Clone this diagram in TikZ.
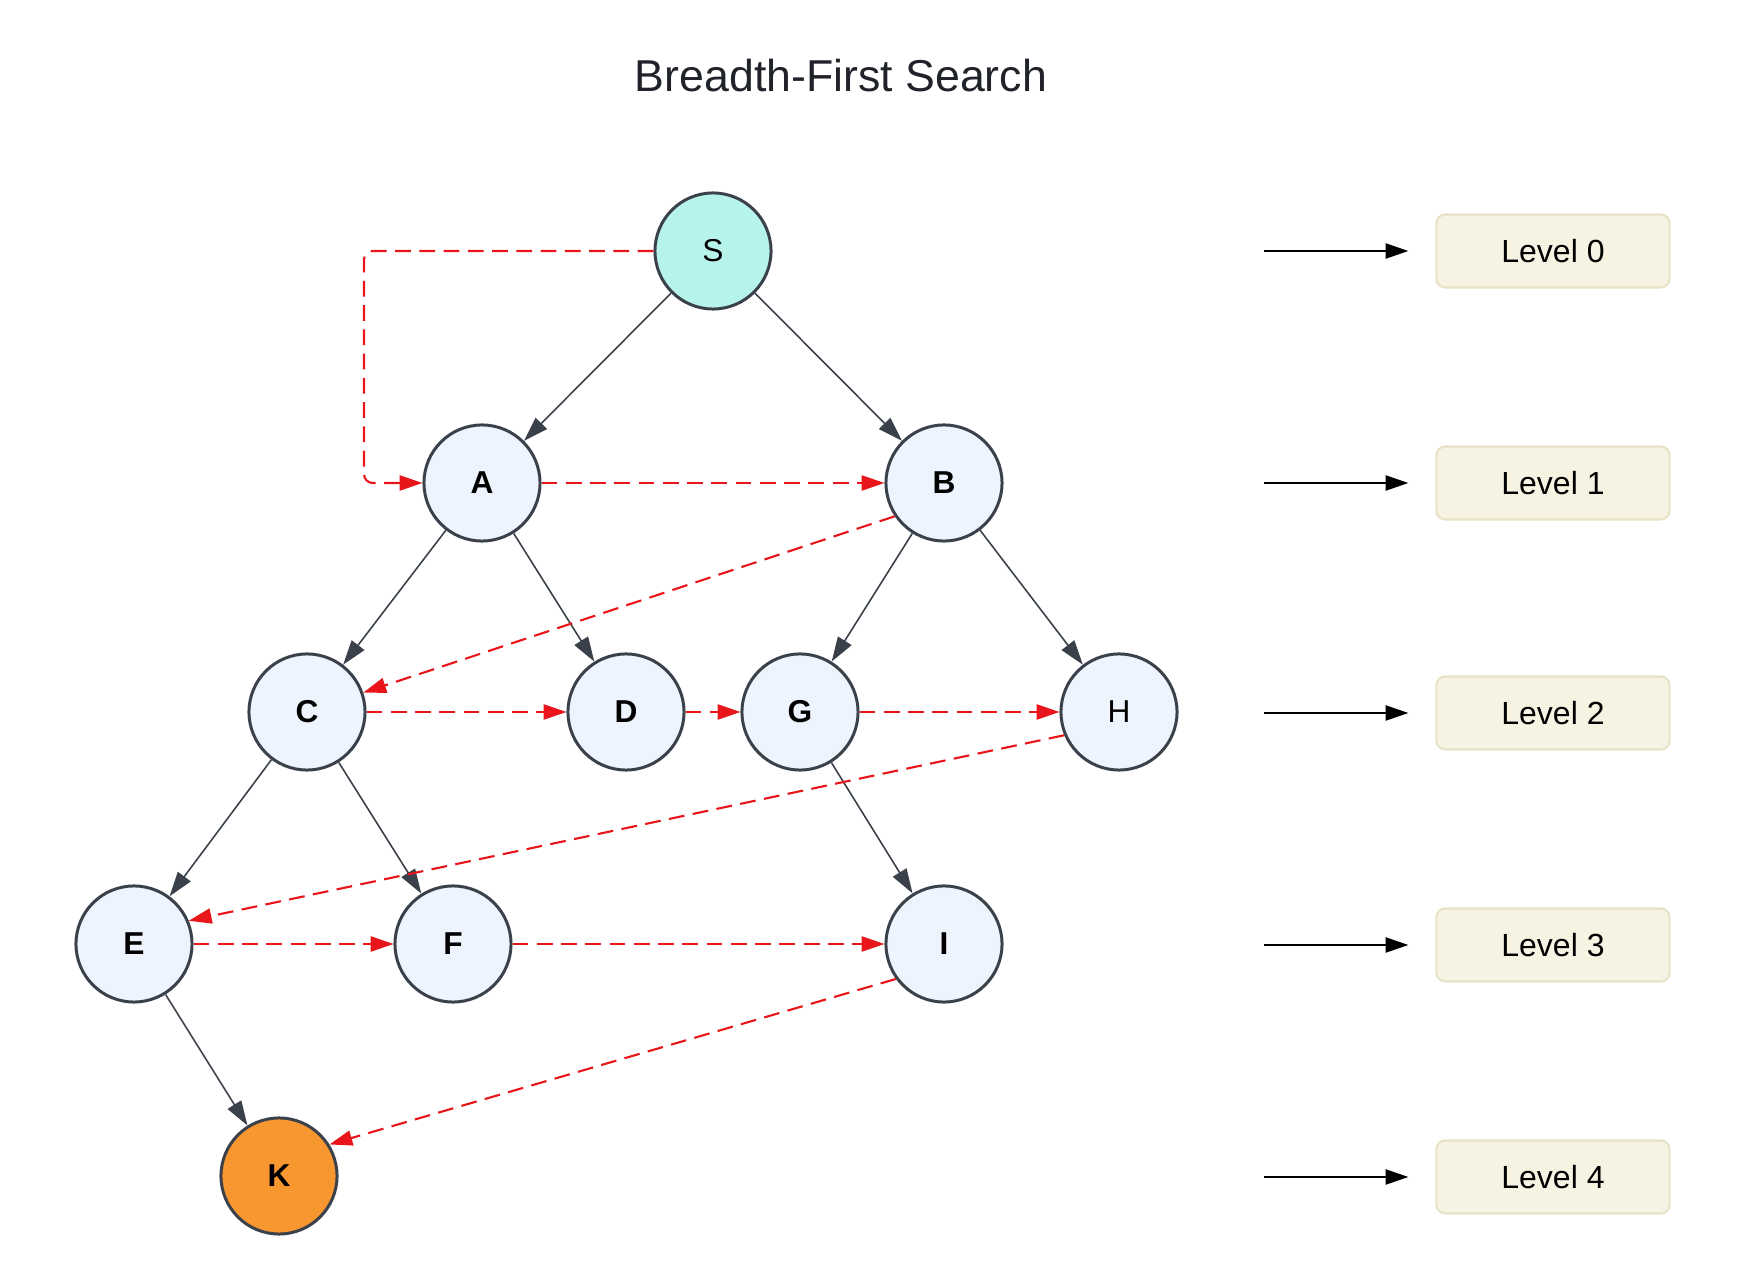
\documentclass[tikz,border=0pt]{standalone}
\usepackage{fontspec}
\setmainfont{Liberation Sans}
\usetikzlibrary{arrows.meta}
\definecolor{ringgray}{HTML}{3A414A}
\definecolor{vertexblue}{HTML}{EDF4FE}
\definecolor{startmint}{HTML}{B6F3EA}
\definecolor{goalorange}{HTML}{F8962F}
\definecolor{visitred}{HTML}{E8161A}
\definecolor{levelfill}{HTML}{F6F3E3}
\definecolor{levelline}{HTML}{E8E2C6}
\definecolor{titlegray}{HTML}{202329}
\newcommand{\vfont}{\fontsize{9}{11}\selectfont}
\tikzset{
  vertex/.style={circle,draw=ringgray,line width=0.85pt,fill=vertexblue,
    minimum size=1.16cm,inner sep=0pt,font=\vfont\bfseries},
  vertexplain/.style={vertex,font=\vfont},
  treeedge/.style={draw=ringgray,line width=0.45pt,
    -{Triangle[length=7pt,width=4.5pt]}},
  visit/.style={draw=visitred,line width=0.6pt,dash pattern=on 4.5pt off 2.4pt,
    -{Triangle[length=6.5pt,width=4.3pt]}},
  levelbox/.style={draw=levelline,line width=0.6pt,fill=levelfill,rounded corners=2.5pt,
    minimum width=2.33cm,minimum height=0.73cm,font=\fontsize{9.1}{11}\selectfont},
  levelarrow/.style={draw=black,line width=0.6pt,shorten >=0.27cm,
    -{Triangle[length=6.5pt,width=4.3pt]}}
}

\begin{document}
\begin{tikzpicture}[x=0.01cm,y=-0.01cm]
	\useasboundingbox (0,0) rectangle (1744,1264);
	
	\node[text=titlegray,font=\fontsize{12.7}{15}\selectfont] (title) at (841,76) {Breadth-First Search};
	
	% vertices
	\node[vertexplain,fill=startmint] (S) at (713,251) {S};
	\node[vertex] (A) at (482,483) {A};
	\node[vertex] (B) at (944,483) {B};
	\node[vertex] (C) at (307,712) {C};
	\node[vertex] (D) at (626,712) {D};
	\node[vertex] (G) at (800,712) {G};
	\node[vertexplain] (H) at (1119,712) {H};
	\node[vertex] (E) at (134,944) {E};
	\node[vertex] (F) at (453,944) {F};
	\node[vertex] (I) at (944,944) {I};
	\node[vertex,fill=goalorange] (K) at (279,1176) {K};
	
	% tree edges
	\foreach \p/\c in {S/A,S/B,A/C,A/D,B/G,B/H,C/E,C/F,G/I,E/K}
		\draw[treeedge] (\p) -- (\c);
	
	% visiting order
	\coordinate (bendtop) at (364,251);
	\coordinate (bendlow) at (364,483);
	\draw[visit,rounded corners=2.5pt] (S.west) -- (bendtop) -- (bendlow) -- (A.west);
	\draw[visit] (A.east) -- (B.west);
	\draw[visit] (B.214) -- (C.19);
	\draw[visit] (C.east) -- (D.west);
	\draw[visit] (D.east) -- (G.west);
	\draw[visit] (G.east) -- (H.west);
	\draw[visit] (H.203) -- (E.23);
	\draw[visit] (E.east) -- (F.west);
	\draw[visit] (F.east) -- (I.west);
	\draw[visit] (I.216) -- (K.32);
	
	% levels
	\foreach \n/\y in {0/251,1/483,2/713,3/945,4/1177}{
		\node[levelbox] (lv\n) at (1553,\y) {Level \n};
		\coordinate (lvtail\n) at (1264,\y);
		\draw[levelarrow] (lvtail\n) -- (lv\n);
	}
\end{tikzpicture}
\end{document}
